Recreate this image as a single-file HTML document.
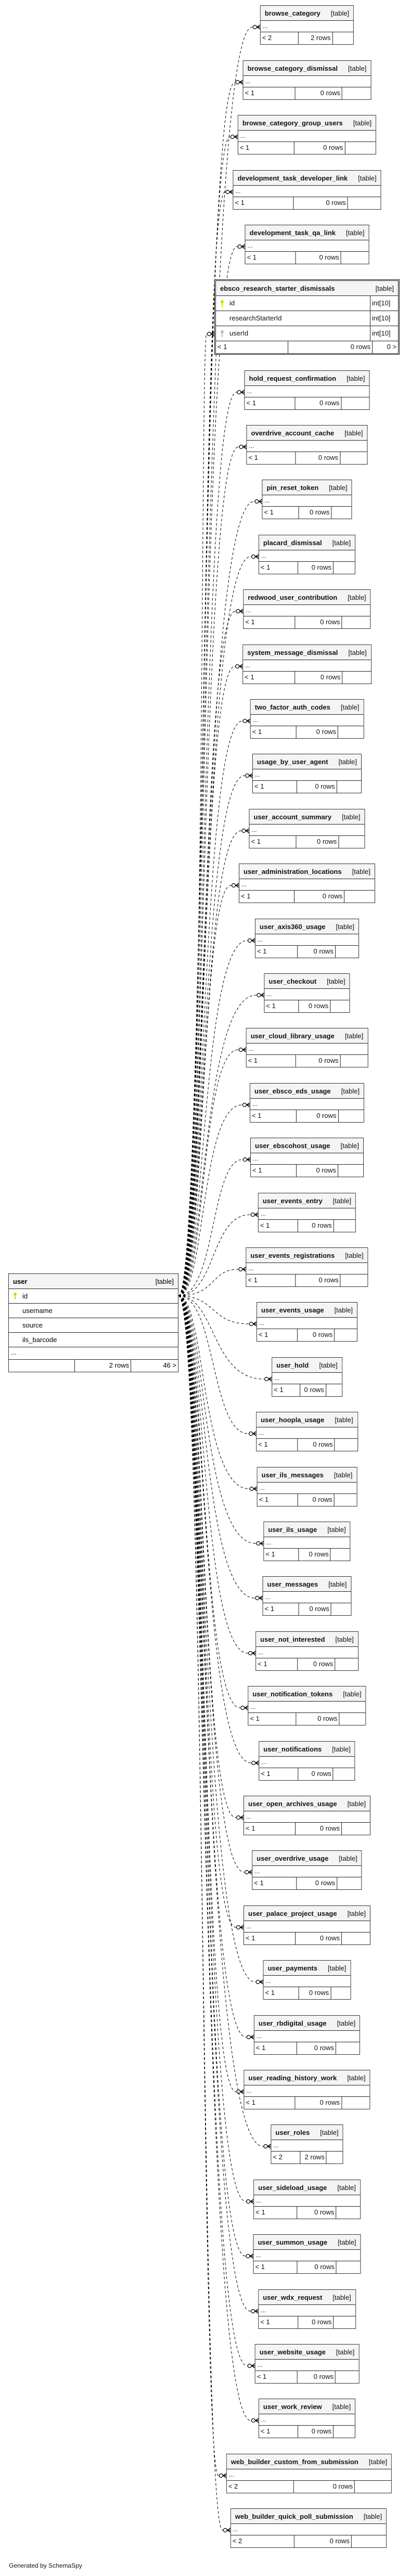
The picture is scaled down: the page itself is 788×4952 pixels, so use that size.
<!DOCTYPE html>
<html><head><meta charset="utf-8">
<style>
body{margin:0;width:788px;height:4952px;position:relative;background:#fff;font-family:"Liberation Sans",sans-serif;overflow:hidden}
svg#c{position:absolute;left:0;top:0;z-index:0}
.t{position:absolute;left:590px;transform:translateX(-50%);border:1.5px solid #333;background:#fff;font-size:13px;white-space:nowrap;z-index:1;color:#111}
.h{height:28px;background:#f4f4f4;border-bottom:1.5px solid #222;display:flex;justify-content:space-between;align-items:center;padding:0 8px;gap:20px}
.h b{font-size:13px}
.r{height:21px;line-height:20px;border-bottom:1.5px solid #222;padding-left:4px;font-size:12px}
.f{display:flex;height:23px;line-height:22px}
.f span{display:block;box-sizing:border-box}
.f span:nth-child(1){flex:41;padding-left:3px;border-right:1.5px solid #222}
.f span:nth-child(2){flex:37;text-align:right;padding-right:3px;border-right:1.5px solid #222}
.f span:nth-child(3){flex:22;text-align:right;padding-right:3px}
.e{border:3px double #111;left:590px;width:350px}
.e .row{display:flex;height:28px;line-height:28px;border-bottom:1.5px solid #222}
.e .row span:first-child{width:297px;border-right:1.5px solid #222;padding-left:26px;box-sizing:border-box;position:relative}
.e .row span:last-child{flex:1;padding-left:3px}
.key{position:absolute;left:10px;top:8px;width:4px;height:13px}
.key:before{content:"";position:absolute;left:-1.5px;top:0;width:6px;height:6px;border-radius:50%;background:currentColor}
.key:after{content:"";position:absolute;left:1px;top:4px;width:2px;height:9px;background:currentColor}
.u{position:absolute;left:16px;top:2448px;width:325px;border:1.5px solid #333;font-size:13px;z-index:1;background:#fff}
.u .h{height:28px}
.u .r{height:27px;line-height:27px;padding-left:26px;position:relative;font-size:13px}
.gen{position:absolute;left:17px;top:4925px;font-size:12px;color:#111}
</style></head><body>
<svg id="c" width="788" height="4952"></svg>

<div class="t" style="top:10px"><div class="h"><b>browse_category</b><span>[table]</span></div><div class="r">...</div><div class="f"><span>&lt; 2</span><span>2 rows</span><span></span></div></div>
<div class="t" style="top:116px"><div class="h"><b>browse_category_dismissal</b><span>[table]</span></div><div class="r">...</div><div class="f"><span>&lt; 1</span><span>0 rows</span><span></span></div></div>
<div class="t" style="top:221px"><div class="h"><b>browse_category_group_users</b><span>[table]</span></div><div class="r">...</div><div class="f"><span>&lt; 1</span><span>0 rows</span><span></span></div></div>
<div class="t" style="top:327px"><div class="h"><b>development_task_developer_link</b><span>[table]</span></div><div class="r">...</div><div class="f"><span>&lt; 1</span><span>0 rows</span><span></span></div></div>
<div class="t" style="top:432px"><div class="h"><b>development_task_qa_link</b><span>[table]</span></div><div class="r">...</div><div class="f"><span>&lt; 1</span><span>0 rows</span><span></span></div></div>
<div class="t e" style="top:537px" data-y="105"><div class="h"><b>ebsco_research_starter_dismissals</b><span>[table]</span></div>
<div class="row"><span><i class="key" style="color:#d8d800"></i>id</span><span>int[10]</span></div>
<div class="row"><span>researchStarterId</span><span>int[10]</span></div>
<div class="row"><span><i class="key" style="color:#bbb"></i>userId</span><span>int[10]</span></div>
<div class="f"><span style="flex:0 0 139px">&lt; 1</span><span style="flex:0 0 162px">0 rows</span><span>0 &gt;</span></div></div>
<div class="t" style="top:712px"><div class="h"><b>hold_request_confirmation</b><span>[table]</span></div><div class="r">...</div><div class="f"><span>&lt; 1</span><span>0 rows</span><span></span></div></div>
<div class="t" style="top:817px"><div class="h"><b>overdrive_account_cache</b><span>[table]</span></div><div class="r">...</div><div class="f"><span>&lt; 1</span><span>0 rows</span><span></span></div></div>
<div class="t" style="top:922px"><div class="h"><b>pin_reset_token</b><span>[table]</span></div><div class="r">...</div><div class="f"><span>&lt; 1</span><span>0 rows</span><span></span></div></div>
<div class="t" style="top:1028px"><div class="h"><b>placard_dismissal</b><span>[table]</span></div><div class="r">...</div><div class="f"><span>&lt; 1</span><span>0 rows</span><span></span></div></div>
<div class="t" style="top:1133px"><div class="h"><b>redwood_user_contribution</b><span>[table]</span></div><div class="r">...</div><div class="f"><span>&lt; 1</span><span>0 rows</span><span></span></div></div>
<div class="t" style="top:1239px"><div class="h"><b>system_message_dismissal</b><span>[table]</span></div><div class="r">...</div><div class="f"><span>&lt; 1</span><span>0 rows</span><span></span></div></div>
<div class="t" style="top:1344px"><div class="h"><b>two_factor_auth_codes</b><span>[table]</span></div><div class="r">...</div><div class="f"><span>&lt; 1</span><span>0 rows</span><span></span></div></div>
<div class="t" style="top:1449px"><div class="h"><b>usage_by_user_agent</b><span>[table]</span></div><div class="r">...</div><div class="f"><span>&lt; 1</span><span>0 rows</span><span></span></div></div>
<div class="t" style="top:1555px"><div class="h"><b>user_account_summary</b><span>[table]</span></div><div class="r">...</div><div class="f"><span>&lt; 1</span><span>0 rows</span><span></span></div></div>
<div class="t" style="top:1660px"><div class="h"><b>user_administration_locations</b><span>[table]</span></div><div class="r">...</div><div class="f"><span>&lt; 1</span><span>0 rows</span><span></span></div></div>
<div class="t" style="top:1766px"><div class="h"><b>user_axis360_usage</b><span>[table]</span></div><div class="r">...</div><div class="f"><span>&lt; 1</span><span>0 rows</span><span></span></div></div>
<div class="t" style="top:1871px"><div class="h"><b>user_checkout</b><span>[table]</span></div><div class="r">...</div><div class="f"><span>&lt; 1</span><span>0 rows</span><span></span></div></div>
<div class="t" style="top:1976px"><div class="h"><b>user_cloud_library_usage</b><span>[table]</span></div><div class="r">...</div><div class="f"><span>&lt; 1</span><span>0 rows</span><span></span></div></div>
<div class="t" style="top:2082px"><div class="h"><b>user_ebsco_eds_usage</b><span>[table]</span></div><div class="r">...</div><div class="f"><span>&lt; 1</span><span>0 rows</span><span></span></div></div>
<div class="t" style="top:2187px"><div class="h"><b>user_ebscohost_usage</b><span>[table]</span></div><div class="r">...</div><div class="f"><span>&lt; 1</span><span>0 rows</span><span></span></div></div>
<div class="t" style="top:2293px"><div class="h"><b>user_events_entry</b><span>[table]</span></div><div class="r">...</div><div class="f"><span>&lt; 1</span><span>0 rows</span><span></span></div></div>
<div class="t" style="top:2398px"><div class="h"><b>user_events_registrations</b><span>[table]</span></div><div class="r">...</div><div class="f"><span>&lt; 1</span><span>0 rows</span><span></span></div></div>
<div class="t" style="top:2503px"><div class="h"><b>user_events_usage</b><span>[table]</span></div><div class="r">...</div><div class="f"><span>&lt; 1</span><span>0 rows</span><span></span></div></div>
<div class="t" style="top:2609px"><div class="h"><b>user_hold</b><span>[table]</span></div><div class="r">...</div><div class="f"><span>&lt; 1</span><span>0 rows</span><span></span></div></div>
<div class="t" style="top:2714px"><div class="h"><b>user_hoopla_usage</b><span>[table]</span></div><div class="r">...</div><div class="f"><span>&lt; 1</span><span>0 rows</span><span></span></div></div>
<div class="t" style="top:2820px"><div class="h"><b>user_ils_messages</b><span>[table]</span></div><div class="r">...</div><div class="f"><span>&lt; 1</span><span>0 rows</span><span></span></div></div>
<div class="t" style="top:2925px"><div class="h"><b>user_ils_usage</b><span>[table]</span></div><div class="r">...</div><div class="f"><span>&lt; 1</span><span>0 rows</span><span></span></div></div>
<div class="t" style="top:3030px"><div class="h"><b>user_messages</b><span>[table]</span></div><div class="r">...</div><div class="f"><span>&lt; 1</span><span>0 rows</span><span></span></div></div>
<div class="t" style="top:3136px"><div class="h"><b>user_not_interested</b><span>[table]</span></div><div class="r">...</div><div class="f"><span>&lt; 1</span><span>0 rows</span><span></span></div></div>
<div class="t" style="top:3241px"><div class="h"><b>user_notification_tokens</b><span>[table]</span></div><div class="r">...</div><div class="f"><span>&lt; 1</span><span>0 rows</span><span></span></div></div>
<div class="t" style="top:3347px"><div class="h"><b>user_notifications</b><span>[table]</span></div><div class="r">...</div><div class="f"><span>&lt; 1</span><span>0 rows</span><span></span></div></div>
<div class="t" style="top:3452px"><div class="h"><b>user_open_archives_usage</b><span>[table]</span></div><div class="r">...</div><div class="f"><span>&lt; 1</span><span>0 rows</span><span></span></div></div>
<div class="t" style="top:3557px"><div class="h"><b>user_overdrive_usage</b><span>[table]</span></div><div class="r">...</div><div class="f"><span>&lt; 1</span><span>0 rows</span><span></span></div></div>
<div class="t" style="top:3663px"><div class="h"><b>user_palace_project_usage</b><span>[table]</span></div><div class="r">...</div><div class="f"><span>&lt; 1</span><span>0 rows</span><span></span></div></div>
<div class="t" style="top:3768px"><div class="h"><b>user_payments</b><span>[table]</span></div><div class="r">...</div><div class="f"><span>&lt; 1</span><span>0 rows</span><span></span></div></div>
<div class="t" style="top:3874px"><div class="h"><b>user_rbdigital_usage</b><span>[table]</span></div><div class="r">...</div><div class="f"><span>&lt; 1</span><span>0 rows</span><span></span></div></div>
<div class="t" style="top:3979px"><div class="h"><b>user_reading_history_work</b><span>[table]</span></div><div class="r">...</div><div class="f"><span>&lt; 1</span><span>0 rows</span><span></span></div></div>
<div class="t" style="top:4084px"><div class="h"><b>user_roles</b><span>[table]</span></div><div class="r">...</div><div class="f"><span>&lt; 2</span><span>2 rows</span><span></span></div></div>
<div class="t" style="top:4190px"><div class="h"><b>user_sideload_usage</b><span>[table]</span></div><div class="r">...</div><div class="f"><span>&lt; 1</span><span>0 rows</span><span></span></div></div>
<div class="t" style="top:4295px"><div class="h"><b>user_summon_usage</b><span>[table]</span></div><div class="r">...</div><div class="f"><span>&lt; 1</span><span>0 rows</span><span></span></div></div>
<div class="t" style="top:4401px"><div class="h"><b>user_wdx_request</b><span>[table]</span></div><div class="r">...</div><div class="f"><span>&lt; 1</span><span>0 rows</span><span></span></div></div>
<div class="t" style="top:4506px"><div class="h"><b>user_website_usage</b><span>[table]</span></div><div class="r">...</div><div class="f"><span>&lt; 1</span><span>0 rows</span><span></span></div></div>
<div class="t" style="top:4611px"><div class="h"><b>user_work_review</b><span>[table]</span></div><div class="r">...</div><div class="f"><span>&lt; 1</span><span>0 rows</span><span></span></div></div>
<div class="t" style="top:4717px;left:594px"><div class="h"><b>web_builder_custom_from_submission</b><span>[table]</span></div><div class="r">...</div><div class="f"><span>&lt; 2</span><span>0 rows</span><span></span></div></div>
<div class="t" style="top:4822px;left:593px"><div class="h"><b>web_builder_quick_poll_submission</b><span>[table]</span></div><div class="r">...</div><div class="f"><span>&lt; 2</span><span>0 rows</span><span></span></div></div>

<div class="u"><div class="h"><b>user</b><span>[table]</span></div>
<div class="r"><i class="key" style="color:#d8d800;top:7px"></i>id</div>
<div class="r">username</div>
<div class="r">source</div>
<div class="r">ils_barcode</div>
<div class="r" style="height:23px;line-height:20px;padding-left:4px">...</div>
<div class="f"><span style="flex:0 0 127px;border-right:1.5px solid #222"></span><span style="flex:0 0 108px">2 rows</span><span>46 &gt;</span></div></div>

<div class="gen">Generated by SchemaSpy</div>

<script>
(function(){
var svg=document.getElementById('c'),ns='http://www.w3.org/2000/svg',out='';
var sx=343,sy=2491;
document.querySelectorAll('.t').forEach(function(t){
 var r=t.getBoundingClientRect();
 var off=t.getAttribute('data-y');var y=r.top+(off?+off:42);var L=r.left;
 var ex=L-15;
 var cx=395+(Math.abs(y-sy)<300?20:0);
 out+='<path d="M'+sx+','+sy+' C'+(cx)+','+sy+' '+(cx-10)+','+y+' '+ex+','+y+'" fill="none" stroke="#000" stroke-width="1" stroke-dasharray="5,4"/>';
 out+='<line x1="'+(ex)+'" y1="'+y+'" x2="'+(L-14)+'" y2="'+y+'" stroke="#000"/>';
 out+='<circle cx="'+(L-10)+'" cy="'+y+'" r="3.5" fill="#fff" stroke="#000" stroke-width="1.2"/>';
 out+='<path d="M'+(L-6)+','+y+' L'+L+','+(y-4)+' M'+(L-6)+','+y+' L'+L+','+y+' M'+(L-6)+','+y+' L'+L+','+(y+4)+'" stroke="#000" stroke-width="1.4" fill="none"/>';
});
svg.innerHTML=out;
})();
</script>
</body></html>
